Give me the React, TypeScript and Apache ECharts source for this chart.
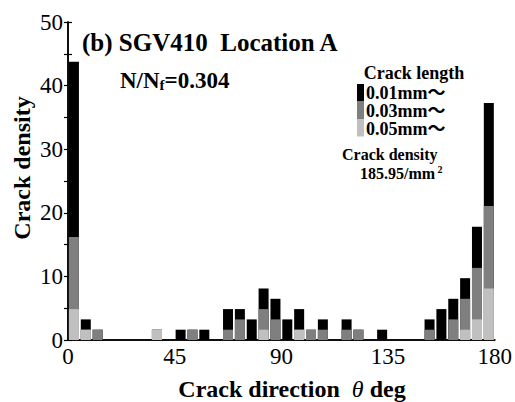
import React, { useEffect, useRef } from "react";
import * as echarts from "echarts";

// Bin centers (deg), 5-degree bins
const binCenters = [
  2.5, 7.5, 12.5, 17.5, 22.5, 27.5, 32.5, 37.5, 42.5, 47.5, 52.5, 57.5,
  62.5, 67.5, 72.5, 77.5, 82.5, 87.5, 92.5, 97.5, 102.5, 107.5, 112.5, 117.5,
  122.5, 127.5, 132.5, 137.5, 142.5, 147.5, 152.5, 157.5, 162.5, 167.5, 172.5, 177.5,
];

// Crack density per bin (/mm^2)
const len001 = [
  43.74, 3.24, 1.62, 0, 0, 0, 0, 1.62, 0, 1.62, 1.62, 1.62,
  0, 4.86, 4.86, 3.24, 8.1, 6.48, 3.24, 4.86, 1.62, 3.24, 0, 3.24,
  1.62, 0, 1.62, 0, 0, 0, 3.24, 4.86, 6.48, 9.72, 17.82, 37.26,
];
const len003 = [
  16.2, 1.62, 1.62, 0, 0, 0, 0, 1.62, 0, 0, 1.62, 0,
  0, 1.62, 3.24, 0, 4.86, 3.24, 0, 1.62, 1.62, 1.62, 0, 1.62,
  1.62, 0, 0, 0, 0, 0, 1.62, 0, 3.24, 6.48, 11.34, 21.06,
];
const len005 = [
  4.86, 1.62, 0, 0, 0, 0, 0, 1.62, 0, 0, 0, 0,
  0, 0, 0, 0, 1.62, 0, 0, 1.62, 0, 0, 0, 0,
  0, 0, 0, 0, 0, 0, 0, 0, 0, 1.62, 3.24, 8.1,
];

const seriesNames = ["0.01mm〜", "0.03mm〜", "0.05mm〜"];
const seriesColors = ["#000000", "#7f7f7f", "#c0c0c0"];
const xTicks = [0, 45, 90, 135, 180];
const yTicks = [0, 10, 20, 30, 40, 50];

const SERIF = "'Liberation Serif', 'DejaVu Serif', 'Noto Sans CJK JP', serif";

export default function App() {
  const ref = useRef<HTMLDivElement>(null);

  useEffect(() => {
    if (!ref.current) return;
    const chart = echarts.init(ref.current, undefined, { renderer: "svg" });
    const allSeries = [len001, len003, len005];
    const yAxisCommon = {
      type: "value",
      min: yTicks[0],
      max: yTicks[yTicks.length - 1],
      interval: 5,
      axisLine: { show: true, lineStyle: { color: "#000", width: 1.5 } },
      axisTick: { show: true, inside: true, length: 4, lineStyle: { color: "#000", width: 1.2 } },
      splitLine: { show: false },
    };
    const bold = (size: number) => ({
      fontFamily: SERIF,
      fontSize: size,
      fontWeight: "bold",
      fill: "#000",
    });
    chart.setOption({
      animation: false,
      backgroundColor: "#fff",
      grid: { left: 68, right: 18, top: 22, bottom: 62, containLabel: false },
      xAxis: [
        {
          type: "value",
          min: xTicks[0],
          max: xTicks[xTicks.length - 1],
          interval: 45,
          axisLine: { show: true, onZero: false, lineStyle: { color: "#000", width: 1.5 } },
          axisTick: { show: false },
          splitLine: { show: false },
          axisLabel: { color: "#000", fontFamily: SERIF, fontSize: 23, margin: 5 },
        },
        {
          type: "value",
          position: "top",
          min: 0,
          max: 180,
          axisLine: { show: true, lineStyle: { color: "#000", width: 1.5 } },
          axisTick: { show: false },
          axisLabel: { show: false },
          splitLine: { show: false },
        },
      ],
      yAxis: [
        {
          ...yAxisCommon,
          position: "left",
          axisLabel: {
            color: "#000",
            fontFamily: SERIF,
            fontSize: 23,
            margin: 5,
            formatter: (v: number) => (yTicks.includes(v) ? String(v) : ""),
          },
        },
        {
          ...yAxisCommon,
          position: "right",
          axisLabel: { show: false },
        },
      ],
      series: allSeries.map((vals, si) => ({
        name: seriesNames[si],
        type: "bar",
        xAxisIndex: 0,
        yAxisIndex: 0,
        barWidth: 10,
        barGap: "-100%",
        itemStyle: { color: seriesColors[si] },
        data: binCenters
          .map((x, i) => [x, vals[i]])
          .filter((d) => d[1] > 0),
        z: 2 + si,
      })),
      graphic: [
        {
          type: "text",
          x: 22,
          y: 168,
          rotation: Math.PI / 2,
          style: {
            text: "Crack density",
            ...bold(24),
            align: "center",
            verticalAlign: "middle",
          },
        },
        {
          type: "text",
          x: 292,
          y: 389,
          style: {
            text: "{a|Crack direction  }{t|θ}{a| deg}",
            ...bold(24),
            align: "center",
            verticalAlign: "middle",
            rich: {
              a: bold(24),
              t: { ...bold(24), fontStyle: "italic", fontWeight: "normal" },
            },
          },
        },
        {
          type: "text",
          x: 82,
          y: 42,
          style: {
            text: "(b) SGV410  Location A",
            ...bold(25),
            align: "left",
            verticalAlign: "middle",
          },
        },
        {
          type: "text",
          x: 120,
          y: 80,
          style: {
            text: "{a|N/N}{s|f}{a|=0.304}",
            ...bold(23),
            align: "left",
            verticalAlign: "middle",
            rich: {
              a: bold(23),
              s: { ...bold(15), padding: [10, 0, 0, 0] },
            },
          },
        },
        {
          type: "text",
          x: 414,
          y: 73,
          style: {
            text: "Crack length",
            ...bold(18),
            align: "center",
            verticalAlign: "middle",
          },
        },
        ...seriesNames.flatMap((nm, i) => [
          {
            type: "rect",
            shape: { x: 357, y: 84 + i * 17.5, width: 7, height: 17.5 },
            style: { fill: seriesColors[i] },
          },
          {
            type: "text",
            x: 366,
            y: 92.5 + i * 18.2,
            style: {
              text: nm,
              ...bold(18),
              align: "left",
              verticalAlign: "middle",
            },
          },
        ]),
        {
          type: "text",
          x: 342,
          y: 154,
          style: {
            text: "Crack density",
            ...bold(16),
            align: "left",
            verticalAlign: "middle",
          },
        },
        {
          type: "text",
          x: 360,
          y: 173,
          style: {
            text: "{a|185.95/mm}{s| 2}",
            ...bold(16),
            align: "left",
            verticalAlign: "middle",
            rich: {
              a: bold(16),
              s: { ...bold(10), padding: [0, 0, 8, 0] },
            },
          },
        },
      ],
    });
    return () => chart.dispose();
  }, []);

  return <div ref={ref} style={{ width: 515, height: 402, position: "absolute", left: 0, top: 0 }} />;
}
